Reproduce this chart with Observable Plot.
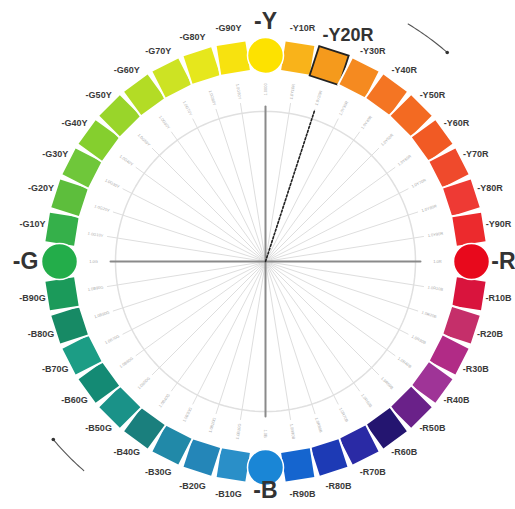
<!DOCTYPE html>
<html><head><meta charset="utf-8">
<script src="https://cdn.jsdelivr.net/npm/d3@7"></script>
<script src="https://cdn.jsdelivr.net/npm/@observablehq/plot@0.6"></script>
<style>body{margin:0;background:#fff;font-family:"Liberation Sans",Arial,sans-serif}</style>
</head><body><div id="chart"></div>
<script>
// NCS hue circle: 40 hues, clockwise from Y at top
const hues = ["Y","Y10R","Y20R","Y30R","Y40R","Y50R","Y60R","Y70R","Y80R","Y90R",
  "R","R10B","R20B","R30B","R40B","R50B","R60B","R70B","R80B","R90B",
  "B","B10G","B20G","B30G","B40G","B50G","B60G","B70G","B80G","B90G",
  "G","G10Y","G20Y","G30Y","G40Y","G50Y","G60Y","G70Y","G80Y","G90Y"];
const colors = ["#fde200","#f9b31a","#f59a1c","#f58a20","#f47523","#f36a22","#f15a24","#ef4a2c","#ee3a34","#ec2a2d",
  "#e8091c","#d9143d","#c52f6a","#b12b86","#9f3497","#6a2189","#241570","#2a2aa5","#1d3ab5","#1565cf",
  "#1a86d6","#2a8fc8","#2486b8","#2189a8","#1a7f7d","#1a9288","#148a74","#1c9d85","#178a65","#1b9a5a",
  "#23ad4a","#35b04a","#5dbe3c","#6fc73a","#85cf2e","#99d52a","#b3dc25","#cde323","#e6e71c","#f7e20f"];
const primaries = ["Y","R","B","G"];
const highlighted = "Y20R";
const spokeLabels = ["1.0000","1.0Y10R","1.0Y20R","1.0Y30R","1.0Y40R","1.0Y50R","1.0Y60R","1.0Y70R","1.0Y80R","1.0Y90R",
  "1.0R","1.0R10B","1.0R20B","1.0R30B","1.0R40B","1.0R50B","1.0R60B","1.0R70B","1.0R80B","1.0R90B",
  "1.0B","1.0B10G","1.0B20G","1.0B30G","1.0B40G","1.0B50G","1.0B60G","1.0B70G","1.0B80G","1.0B90G",
  "1.0G","1.0G10Y","1.0G20Y","1.0G30Y","1.0G40Y","1.0G50Y","1.0G60Y","1.0G70Y","1.0G80Y","1.0G90Y"];
const arrows = [{from:31,to:41,dotAt:41},{from:221,to:230,dotAt:230}];

const STEP = 360 / hues.length;
const rad = d => d * Math.PI / 180;
const px = (r, a) => r * Math.sin(rad(a));
const py = (r, a) => r * Math.cos(rad(a));

const R_SW = 206, R_LAB = 236, R_ARC = 150, R_SPOKE = 160, R_AX = 155, R_TINY = 172, R_ARROW = 277;

const items = hues.map((h, i) => ({hue: h, color: colors[i], angle: i * STEP, tiny: spokeLabels[i],
  primary: primaries.includes(h), hl: h === highlighted}));

const spokes = items.filter(d => !d.primary).flatMap(d => [{a: d.angle, r: 0, k: d.hue}, {a: d.angle, r: R_SPOKE, k: d.hue}]);
const axes = items.filter(d => d.primary).flatMap(d => [{a: d.angle, r: 0, k: d.hue}, {a: d.angle, r: R_AX, k: d.hue}]);
const arc = d3.range(0, 361, 2).map(a => ({a, r: R_ARC}));
const dotted = [{a: 18, r: 0}, {a: 18, r: 158}];
const arrowPts = arrows.flatMap((ar, j) => d3.range(ar.from, ar.to + 0.01, 0.5).map(a => ({a, r: R_ARROW, k: j})));
const arrowDots = arrows.map(ar => ({a: ar.dotAt, r: R_ARROW}));
const bigR = {Y: 240, R: 238, B: 229, G: 240};

const X = d => px(d.r, d.a), Y = d => py(d.r, d.a);
const FONT = '"Liberation Sans Narrow","Liberation Sans",Arial,sans-serif';

const plot = Plot.plot({
  width: 515, height: 509, margin: 0,
  x: {domain: [-265, 250], axis: null},
  y: {domain: [-248, 261], axis: null},
  style: {background: "#fff", fontFamily: '"Liberation Sans",Arial,sans-serif'},
  marks: [
    Plot.line(arc, {x: X, y: Y, stroke: "#e0e0e0", strokeWidth: 1.5}),
    Plot.line(spokes, {x: X, y: Y, z: "k", stroke: "#dedede", strokeWidth: 1}),
    Plot.line(axes, {x: X, y: Y, z: "k", stroke: "#8a8a8a", strokeWidth: 2}),
    Plot.line(dotted, {x: X, y: Y, stroke: "#222", strokeWidth: 1.6, strokeDasharray: "2,2"}),
    Plot.text(items, {x: d => px(R_TINY, d.angle), y: d => py(R_TINY, d.angle), text: "tiny",
      rotate: d => d.angle <= 180 ? d.angle - 90 : d.angle + 90, fontSize: 4, fill: "#aaa"}),
    Plot.dot(items.filter(d => !d.primary), {x: d => px(R_SW, d.angle), y: d => py(R_SW, d.angle),
      symbol: "square", r: 17.5, rotate: "angle", fill: "color",
      stroke: d => d.hl ? "#222" : "#fff", strokeWidth: d => d.hl ? 1.8 : 2}),
    Plot.dot(items.filter(d => d.primary), {x: d => px(R_SW, d.angle), y: d => py(R_SW, d.angle),
      r: 18, fill: "color", stroke: "#fff", strokeWidth: 1.5}),
    Plot.text(items.filter(d => !d.primary && !d.hl), {x: d => px(R_LAB, d.angle), y: d => py(R_LAB, d.angle),
      text: d => "-" + d.hue, fontSize: 9, fontWeight: 700, fill: "#3a3a3a", fontFamily: FONT}),
    Plot.text(items.filter(d => d.hl), {x: d => px(241, d.angle + 2), y: d => py(241, d.angle + 2),
      text: d => "-" + d.hue, fontSize: 18, fontWeight: 700, fill: "#333"}),
    Plot.text(items.filter(d => d.primary), {x: d => px(bigR[d.hue], d.angle), y: d => py(bigR[d.hue], d.angle),
      text: d => "-" + d.hue, fontSize: 23, fontWeight: 700, fill: "#333"}),
    Plot.line(arrowPts, {x: X, y: Y, z: "k", stroke: "#555", strokeWidth: 1.1}),
    Plot.dot(arrowDots, {x: X, y: Y, r: 1.8, fill: "#333"})
  ]
});
document.getElementById("chart").append(plot);
</script></body></html>
